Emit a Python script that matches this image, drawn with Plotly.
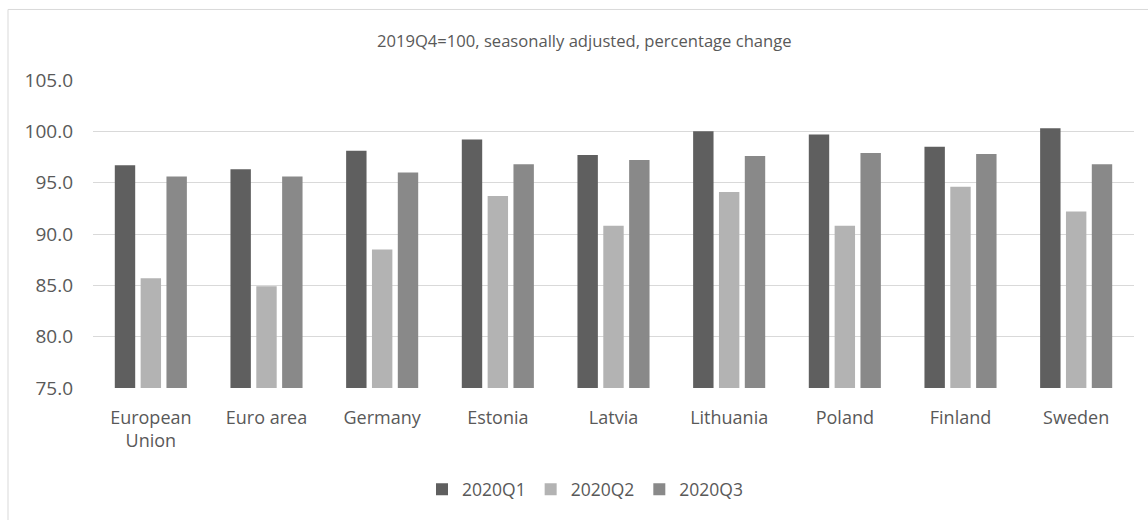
import plotly.graph_objects as go

# Real GDP index, 2019Q4 = 100
countries = ["European<br>Union", "Euro area", "Germany", "Estonia", "Latvia",
             "Lithuania", "Poland", "Finland", "Sweden"]
q1_2020 = [96.7, 96.3, 98.1, 99.2, 97.7, 100.0, 99.7, 98.5, 100.3]
q2_2020 = [85.7, 84.9, 88.5, 93.7, 90.8, 94.1, 90.8, 94.6, 92.2]
q3_2020 = [95.6, 95.6, 96.0, 96.8, 97.2, 97.6, 97.9, 97.8, 96.8]

series = [("2020Q1", q1_2020, "#5f5f5f"),
          ("2020Q2", q2_2020, "#b3b3b3"),
          ("2020Q3", q3_2020, "#898989")]

y_ticks = [75, 80, 85, 90, 95, 100, 105]

FONT = "Open Sans, Liberation Sans, sans-serif"
TEXT = "#595959"

fig = go.Figure()
for name, vals, color in series:
    fig.add_trace(go.Bar(name=name, x=countries, y=vals,
                         marker=dict(color=color, line=dict(width=0))))

W, H = 1148, 520
L, R, T, B = 93, 14, 80, 130
pw, ph = W - L - R, H - T - B

def px_x(x):
    return (x - L) / pw

def px_y(y):
    return (H - B - y) / ph

fig.update_layout(
    template="none",
    width=W, height=H,
    margin=dict(l=L, r=R, t=T, b=B),
    paper_bgcolor="white", plot_bgcolor="white",
    barmode="group", bargap=0.33, bargroupgap=0.21,
    font=dict(family=FONT, color=TEXT, size=18),
    showlegend=True,
    legend=dict(orientation="h", x=px_x(585), xanchor="center",
                y=px_y(492), yanchor="middle",
                font=dict(size=17.5, color=TEXT), itemwidth=30,
                traceorder="normal", bgcolor="rgba(0,0,0,0)"),
    xaxis=dict(showgrid=False, showline=False, ticks="", zeroline=False,
               ticklabelstandoff=17,
               tickfont=dict(size=18, color=TEXT)),
    yaxis=dict(range=[75, 105], tickvals=y_ticks,
               ticktext=[f"{v:.1f}" for v in y_ticks],
               showgrid=True, gridcolor="#d9d9d9", gridwidth=1.3,
               zeroline=False, showline=False, ticks="",
               ticklabelstandoff=19,
               tickfont=dict(size=19, color=TEXT)),
    annotations=[dict(text="2019Q4=100, seasonally adjusted, percentage change",
                      xref="paper", yref="paper", x=px_x(584), y=px_y(40),
                      xanchor="center", yanchor="middle", showarrow=False,
                      font=dict(size=16.6, color=TEXT, family=FONT))],
    shapes=[dict(type="rect", xref="paper", yref="paper",
                 x0=px_x(8), x1=px_x(1160), y0=px_y(530), y1=px_y(9),
                 line=dict(color="#d9d9d9", width=1), layer="below")],
)

fig.write_html("out.html")
